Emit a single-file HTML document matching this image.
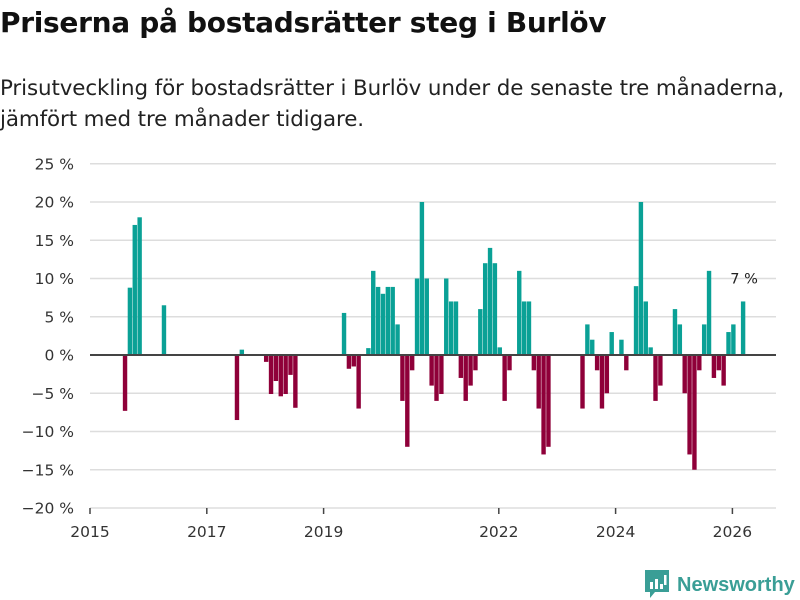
<!DOCTYPE html>
<html><head><meta charset="utf-8"><style>
body{margin:0;width:800px;height:600px;background:#fff;font-family:"DejaVu Sans","Liberation Sans",sans-serif;overflow:hidden;position:relative}
h1{position:absolute;left:0;top:6px;margin:0;font-size:28px;font-weight:bold;color:#111;letter-spacing:-0.3px;white-space:nowrap}
p{position:absolute;left:0;top:73px;margin:0;font-size:21.4px;line-height:31px;color:#222;white-space:nowrap;letter-spacing:-0.1px}
svg{position:absolute;left:0;top:0}
</style></head><body>
<h1>Priserna på bostadsrätter steg i Burlöv</h1>
<p>Prisutveckling för bostadsrätter i Burlöv under de senaste tre månaderna,<br>jämfört med tre månader tidigare.</p>
<svg id="c" width="800" height="600"></svg>
<script>
const months=[7,8,9,10,15,30,31,36,37,38,39,40,41,42,52,53,54,55,57,58,59,60,61,62,63,64,65,66,67,68,69,70,71,72,73,74,75,76,77,78,79,80,81,82,83,84,85,86,88,89,90,91,92,93,94,101,102,103,104,105,106,107,109,110,112,113,114,115,116,117,120,121,122,123,124,125,126,127,128,129,130,131,132,134];
const values=[-7.3,8.8,17,18,6.5,-8.5,0.7,-0.9,-5.1,-3.4,-5.4,-5.1,-2.6,-6.9,5.5,-1.8,-1.5,-7,0.9,11,8.9,8,8.9,8.9,4,-6,-12,-2,10,20,10,-4,-6,-5.1,10,7,7,-3,-6,-4,-2,6,12,14,12,1,-6,-2,11,7,7,-2,-7,-13,-12,-7,4,2,-2,-7,-5,3,2,-2,9,20,7,1,-6,-4,6,4,-5,-13,-15,-2,4,11,-3,-2,-4,3,4,7];
const yTicks=[25,20,15,10,5,0,-5,-10,-15,-20];
const xTickYears=[2015,2017,2019,2022,2024,2026];
const NS="http://www.w3.org/2000/svg",svg=document.getElementById('c');
const y=v=>355-v*7.65;
const x=m=>90+m*58.4/12;
function mk(t,a,txt){const e=document.createElementNS(NS,t);for(const k in a)e.setAttribute(k,a[k]);if(txt!=null)e.textContent=txt;svg.appendChild(e);return e;}
yTicks.forEach(v=>{
 if(v!==0){const g=mk('line',{x1:90,x2:776,y1:y(v),y2:y(v),stroke:'#ddd','stroke-width':1.5});
 
 }
 const t=mk('text',{x:74,y:y(v)+5.5,'text-anchor':'end','font-size':15.5,fill:'#333'},(v<0?'−'+(-v):v)+' %');
 
 
});
months.forEach((m,i)=>{
 const v=values[i],c=x(m+0.2);
 const r=mk('rect',{x:c-2.2,width:4.4,y:Math.min(y(v),y(0)),height:Math.abs(y(v)-y(0)),fill:v>=0?'#0aa196':'#8f0039'});
 
 
});
const z=mk('line',{x1:90,x2:776,y1:y(0),y2:y(0),stroke:'#444','stroke-width':2});


xTickYears.forEach(yr=>{
 const xx=x((yr-2015)*12);
 const tk=mk('line',{x1:xx,x2:xx,y1:508,y2:514,stroke:'#444','stroke-width':1.5});
 
 
 const t=mk('text',{x:xx,y:537,'text-anchor':'middle','font-size':15.5,fill:'#333'},yr);
 
 
});
const li=values.length-1;
const lab=mk('text',{x:x(months[li]+0.2)+1,y:y(values[li])-18,'text-anchor':'middle','font-size':14.5,fill:'#222'},Math.round(values[li])+' %');


</script>
<div style="position:absolute;left:645px;top:570px;display:flex;align-items:center">
<svg width="24" height="30" style="position:static" viewBox="0 0 24 30"><path d="M0 0h24v22H10l-5 6v-6H0z" fill="#3a9e96"/><rect x="5" y="12" width="3" height="7" fill="#fff"/><rect x="10" y="9" width="3" height="10" fill="#fff"/><rect x="15" y="14" width="3" height="5" fill="#fff"/><rect x="19" y="5" width="2.5" height="10" fill="#fff"/></svg>
<span style="margin-left:8px;font-size:20px;font-weight:bold;color:#3a9e96;font-family:'Liberation Sans',sans-serif">Newsworthy</span></div>
</body></html>
